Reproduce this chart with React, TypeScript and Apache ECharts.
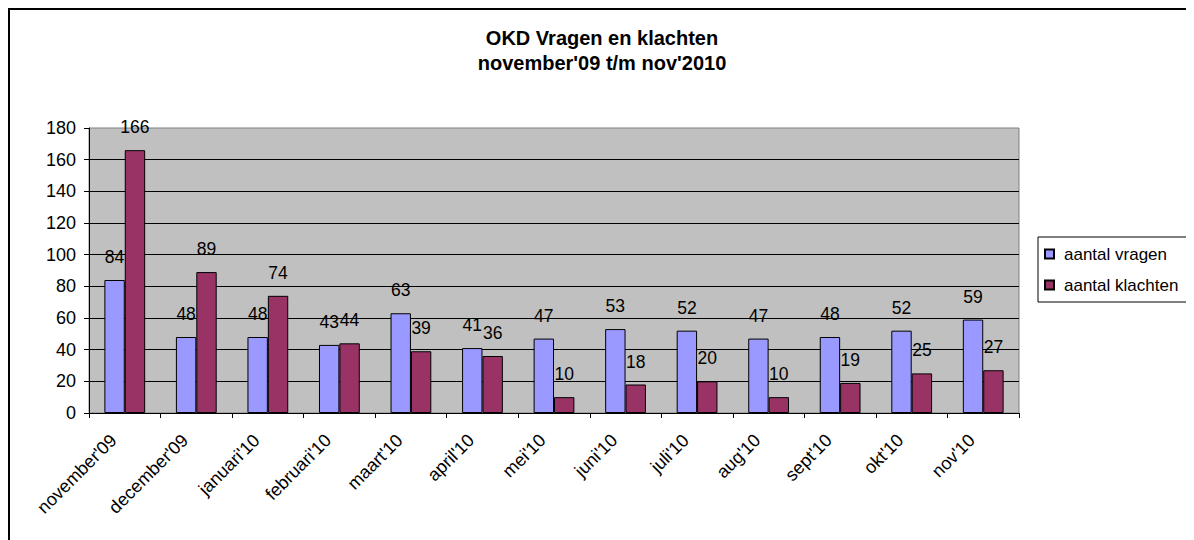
import React, { useEffect, useRef } from "react";
import * as echarts from "echarts";

const categories = [
  "november'09",
  "december'09",
  "januari'10",
  "februari'10",
  "maart'10",
  "april'10",
  "mei'10",
  "juni'10",
  "juli'10",
  "aug'10",
  "sept'10",
  "okt'10",
  "nov'10",
];
const vragen = [84, 48, 48, 43, 63, 41, 47, 53, 52, 47, 48, 52, 59];
const klachten = [166, 89, 74, 44, 39, 36, 10, 18, 20, 10, 19, 25, 27];
const seriesNames = ["aantal vragen", "aantal klachten"];
const titleLines = ["OKD Vragen en klachten", "november'09 t/m nov'2010"];

const FONT = "'Liberation Sans', Arial, sans-serif";

export default function App() {
  const ref = useRef<HTMLDivElement>(null);
  useEffect(() => {
    if (!ref.current) return;
    const chart = echarts.init(ref.current, undefined, { renderer: "svg" });
    const label = {
      show: true,
      position: "top" as const,
      distance: 14,
      color: "#000",
      fontSize: 17.5,
      fontFamily: FONT,
    };
    chart.setOption({
      animation: false,
      backgroundColor: "#fff",
      textStyle: { fontFamily: FONT },
      title: {
        text: titleLines.join("\n"),
        left: "center",
        top: 10,
        textStyle: {
          fontSize: 20,
          fontWeight: "bold",
          color: "#000",
          lineHeight: 25,
          fontFamily: FONT,
        },
      },
      legend: {
        orient: "vertical",
        left: 1028,
        top: 227,
        backgroundColor: "#fff",
        borderColor: "#000",
        borderWidth: 1,
        borderRadius: 0,
        padding: [8, 12, 8, 6],
        itemWidth: 9,
        itemHeight: 9,
        itemGap: 13,
        icon: "rect",
        textStyle: {
          fontSize: 17,
          lineHeight: 18,
          color: "#000",
          fontFamily: FONT,
          padding: [0, 0, 0, 5],
        },
        data: seriesNames,
      },
      grid: {
        left: 79,
        top: 118,
        width: 930,
        height: 285,
        show: true,
        backgroundColor: "#C0C0C0",
        borderColor: "#808080",
        borderWidth: 1,
      },
      xAxis: {
        type: "category",
        data: categories,
        boundaryGap: true,
        axisLine: { show: true, lineStyle: { color: "#000", width: 1 } },
        axisTick: { show: true, length: 5, lineStyle: { color: "#000" } },
        axisLabel: {
          rotate: 45,
          interval: 0,
          margin: 13,
          padding: [0, 16, 0, 0],
          fontSize: 18,
          color: "#000",
          fontFamily: FONT,
        },
        splitLine: { show: false },
      },
      yAxis: {
        type: "value",
        min: 0,
        max: 180,
        interval: 20,
        axisLine: { show: true, lineStyle: { color: "#000", width: 1 } },
        axisTick: { show: true, length: 5, lineStyle: { color: "#000" } },
        axisLabel: {
          margin: 13,
          fontSize: 18,
          color: "#000",
          fontFamily: FONT,
        },
        splitLine: {
          show: true,
          showMaxLine: false,
          lineStyle: { color: "#000", width: 1 },
        },
      },
      series: [
        {
          name: seriesNames[0],
          type: "bar",
          data: vragen,
          barGap: "0%",
          barCategoryGap: "43%",
          itemStyle: { color: "#9999FF", borderColor: "#000", borderWidth: 1 },
          label,
        },
        {
          name: seriesNames[1],
          type: "bar",
          data: klachten,
          barGap: "0%",
          barCategoryGap: "43%",
          itemStyle: { color: "#993366", borderColor: "#000", borderWidth: 1 },
          label,
        },
      ],
    });
    return () => chart.dispose();
  }, []);
  return (
    <div
      style={{
        borderLeft: "2px solid #000",
        borderTop: "2px solid #000",
        width: 1184,
        height: 530,
        overflow: "hidden",
      }}
    >
      <div ref={ref} style={{ width: 1184, height: 530 }} />
    </div>
  );
}
